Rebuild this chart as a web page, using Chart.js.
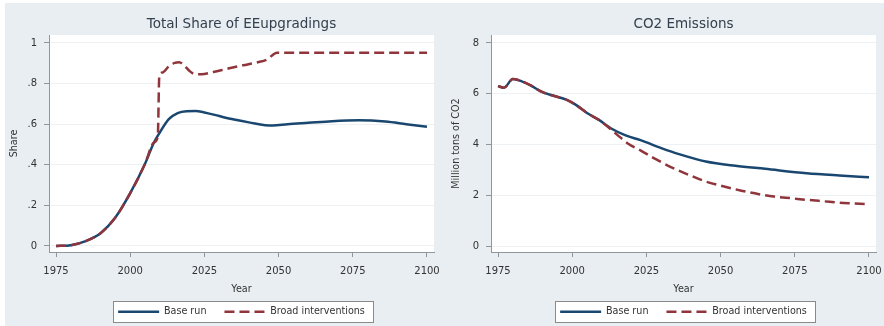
<!DOCTYPE html>
<html>
<head>
<meta charset="utf-8">
<script src="https://cdn.jsdelivr.net/npm/chart.js@4.4.1/dist/chart.umd.min.js"></script>
<style>
  html, body { margin: 0; padding: 0; }
  body { width: 884px; height: 326px; background: #e8eef1; position: relative; overflow: hidden; }
  .strip { position: absolute; background: #ffffff; }
  canvas { position: absolute; top: 0; }
</style>
</head>
<body>
<div class="strip" style="left:0;top:0;width:884px;height:3px"></div>
<div class="strip" style="left:0;top:0;width:5px;height:326px"></div>
<canvas id="share" width="442" height="326" style="left:0"></canvas>
<canvas id="co2" width="442" height="326" style="left:442px"></canvas>
<script>
// Axis ticks
const yearTicks = [1975, 2000, 2025, 2050, 2075, 2100];
const shareTicks = [0, 0.2, 0.4, 0.6, 0.8, 1];
const co2Ticks = [0, 2, 4, 6, 8];

// Total share of EE upgradings
const shareBaseYears = [1975, 1980, 1985, 1990, 1995, 2000, 2005, 2008, 2010, 2013, 2016, 2019, 2022, 2025, 2030, 2035, 2040, 2048, 2053, 2060, 2068, 2077, 2086, 2093, 2100];
const shareBase      = [0, 0.004, 0.024, 0.063, 0.14, 0.26, 0.405, 0.51, 0.56, 0.625, 0.655, 0.664, 0.665, 0.658, 0.64, 0.623, 0.609, 0.593, 0.6, 0.607, 0.615, 0.619, 0.613, 0.6, 0.587];

const shareBroadYears = [1975, 1980, 1985, 1990, 1995, 2000, 2005, 2008, 2009.3, 2009.8, 2011, 2013, 2015, 2016.5, 2018, 2020, 2022, 2024, 2028, 2033, 2038, 2043, 2046, 2049.5, 2100];
const shareBroad      = [0, 0.004, 0.024, 0.063, 0.14, 0.26, 0.405, 0.51, 0.54, 0.835, 0.855, 0.885, 0.902, 0.905, 0.892, 0.862, 0.846, 0.846, 0.857, 0.874, 0.89, 0.905, 0.918, 0.952, 0.952];

// CO2 emissions, million tons
const co2BaseYears = [1975, 1977, 1980, 1983, 1986, 1990, 1994, 1998, 2001, 2005, 2009, 2013, 2018, 2023, 2030, 2036, 2045, 2055, 2065, 2079, 2090, 2100];
const co2Base      = [6.30, 6.24, 6.58, 6.49, 6.33, 6.06, 5.91, 5.77, 5.58, 5.24, 4.97, 4.64, 4.36, 4.17, 3.86, 3.62, 3.33, 3.16, 3.04, 2.87, 2.78, 2.71];

const co2BroadYears = [1975, 1977, 1980, 1983, 1986, 1990, 1994, 1998, 2001, 2005, 2009, 2012, 2015, 2019, 2023, 2028, 2034, 2040, 2045, 2050, 2057, 2063, 2068, 2074, 2079, 2085, 2090, 2095, 2100];
const co2Broad      = [6.30, 6.24, 6.58, 6.49, 6.33, 6.06, 5.91, 5.77, 5.58, 5.24, 4.97, 4.70, 4.40, 4.02, 3.77, 3.43, 3.07, 2.77, 2.54, 2.38, 2.18, 2.04, 1.95, 1.88, 1.82, 1.76, 1.71, 1.68, 1.65];

const seriesNames = ['Base run', 'Broad interventions'];

const BLUE = '#1a476f';
const RED = '#90353b';
const AXIS = '#8f969c';
const GRID = '#edf1f4';
const TEXT = '#333333';

Chart.defaults.font.family = "'DejaVu Sans', Verdana, sans-serif";
Chart.defaults.color = TEXT;

const points = (xs, ys) => xs.map((x, i) => ({ x, y: ys[i] }));

// White plot region and a framed legend, as in Stata graphs
const panelBackground = {
  id: 'panelBackground',
  beforeDraw(chart) {
    const { ctx, chartArea: a } = chart;
    ctx.save();
    ctx.fillStyle = '#ffffff';
    ctx.fillRect(a.left, a.top, a.right - a.left, a.bottom - a.top);
    const hb = chart.legend && chart.legend.legendHitBoxes;
    if (hb && hb.length) {
      const first = hb[0], last = hb[hb.length - 1];
      const l = Math.round(first.left - 5) + 0.5;
      const r = Math.round(last.left + last.width + 8) + 0.5;
      const t = Math.round(first.top - 6) + 0.5;
      const b = Math.round(first.top + first.height + 5) + 0.5;
      ctx.fillRect(l, t, r - l, b - t);
      ctx.strokeStyle = '#8a8a8a';
      ctx.lineWidth = 1;
      ctx.strokeRect(l, t, r - l, b - t);
    }
    ctx.restore();
  }
};

function makePanel(id, title, yTitle, base, broad, yTicks, yMin, yMax, fmt) {
  return new Chart(document.getElementById(id), {
    type: 'line',
    data: {
      datasets: [
        { label: seriesNames[0], data: base, borderColor: BLUE, backgroundColor: BLUE,
          borderWidth: 2.5, pointRadius: 0, cubicInterpolationMode: 'monotone', order: 1 },
        { label: seriesNames[1], data: broad, borderColor: RED, backgroundColor: RED,
          borderWidth: 2.5, borderDash: [10, 5], pointRadius: 0, cubicInterpolationMode: 'monotone', order: 0 }
      ]
    },
    options: {
      responsive: false,
      animation: false,
      devicePixelRatio: 1,
      events: [],
      layout: { padding: { left: 0, right: 8, top: 0, bottom: 7 } },
      scales: {
        x: {
          type: 'linear',
          min: 1972.64, max: 2102.36,
          afterBuildTicks: s => { s.ticks = yearTicks.map(v => ({ value: v })); },
          afterFit: s => { s.height = 37; s.paddingLeft = 0; s.paddingRight = 0; },
          ticks: { padding: 8, font: { size: 10 }, color: TEXT, callback: v => String(v) },
          grid: { drawOnChartArea: false, drawTicks: true, tickLength: 5, tickColor: AXIS, tickWidth: 1 },
          border: { display: true, color: AXIS, width: 1 },
          title: { display: true, text: 'Year', font: { size: 9.6 }, color: TEXT, padding: { top: 0, bottom: -6 } }
        },
        y: {
          type: 'linear',
          min: yMin, max: yMax,
          afterBuildTicks: s => { s.ticks = yTicks.map(v => ({ value: v })); },
          afterFit: s => { s.width = 49; s.paddingTop = 0; s.paddingBottom = 0; },
          ticks: { padding: 7, font: { size: 10 }, color: TEXT, callback: fmt },
          grid: { color: GRID, lineWidth: 1, drawTicks: true, tickLength: 5, tickColor: AXIS, tickWidth: 1 },
          border: { display: true, color: AXIS, width: 1 },
          title: { display: true, text: yTitle, font: { size: 9.6 }, color: TEXT, padding: { top: 9, bottom: 0 } }
        }
      },
      plugins: {
        title: {
          display: true, text: title, fullSize: false,
          font: { size: 13.5, weight: 'normal' }, color: '#34404d',
          padding: { top: 16, bottom: 2.8 }
        },
        legend: {
          position: 'bottom', fullSize: false, maxHeight: 30,
          labels: {
            usePointStyle: true, pointStyle: 'line', pointStyleWidth: 41,
            padding: 18, font: { size: 9.6 }, color: TEXT,
            generateLabels: chart => chart.data.datasets.map((ds, i) => ({
              text: ds.label, datasetIndex: i, hidden: false,
              strokeStyle: ds.borderColor, fillStyle: ds.borderColor,
              lineWidth: ds.borderWidth, lineDash: ds.borderDash || [],
              lineCap: 'butt', pointStyle: 'line', fontColor: TEXT
            }))
          }
        },
        tooltip: { enabled: false }
      }
    },
    plugins: [panelBackground]
  });
}

const shareFmt = v => (v === 0 ? '0' : v === 1 ? '1' : v.toFixed(1).replace(/^0/, ''));
const co2Fmt = v => String(v);

makePanel('share', 'Total Share of EEupgradings', 'Share',
  points(shareBaseYears, shareBase), points(shareBroadYears, shareBroad),
  shareTicks, -0.0296, 1.0394, shareFmt);

makePanel('co2', 'CO2 Emissions', 'Million tons of CO2',
  points(co2BaseYears, co2Base), points(co2BroadYears, co2Broad),
  co2Ticks, -0.236, 8.315, co2Fmt);
</script>
</body>
</html>
